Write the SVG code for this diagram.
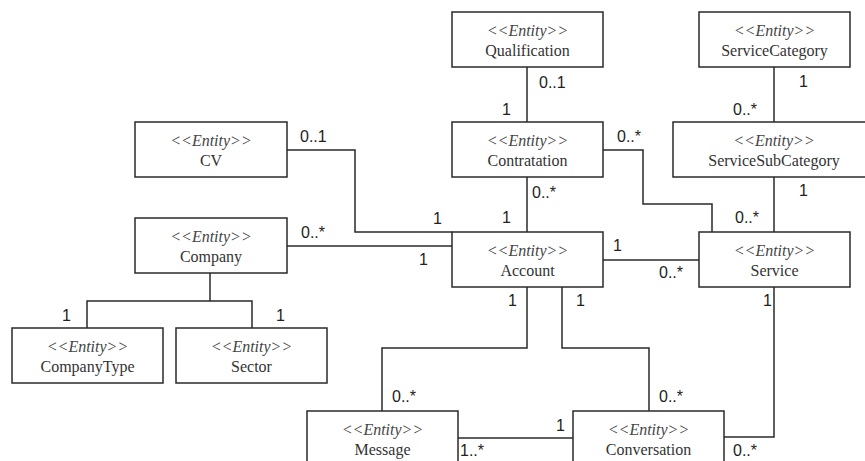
<svg xmlns="http://www.w3.org/2000/svg" width="865" height="461" viewBox="0 0 865 461">
<style>
.box{fill:#fff;stroke:#2a2a2a;stroke-width:1.5}
.st{font-family:"Liberation Serif",serif;font-style:italic;font-size:16px;fill:#444;text-anchor:middle}
.nm{font-family:"Liberation Serif",serif;font-size:16px;fill:#333;text-anchor:middle}
.ln{fill:none;stroke:#2a2a2a;stroke-width:1.5}
.m{font-family:"Liberation Sans",sans-serif;font-size:16px;fill:#222}
</style>
<rect width="865" height="461" fill="#fff"/>
<g id="connectors">
<path class="ln" d="M527,67 V122"/>
<path class="ln" d="M774,67 V122"/>
<path class="ln" d="M287,150 H355 V232 H452"/>
<path class="ln" d="M287,246 H452"/>
<path class="ln" d="M527,177 V232"/>
<path class="ln" d="M603,150 H643 V204 H712 V232"/>
<path class="ln" d="M774,177 V232"/>
<path class="ln" d="M603,260 H699"/>
<path class="ln" d="M527,287 V348 H382 V411"/>
<path class="ln" d="M562,287 V348 H649 V411"/>
<path class="ln" d="M774,287 V437 H724"/>
<path class="ln" d="M458,438 H573"/>
<path class="ln" d="M210,273 V301"/>
<path class="ln" d="M87,328 V301 H252 V328"/>
</g>
<g id="labels">
<text class="m" x="300" y="142">0..1</text>
<text class="m" x="433" y="224">1</text>
<text class="m" x="301" y="238">0..*</text>
<text class="m" x="419" y="265">1</text>
<text class="m" x="539" y="88">0..1</text>
<text class="m" x="502" y="115">1</text>
<text class="m" x="617" y="142">0..*</text>
<text class="m" x="532" y="198">0..*</text>
<text class="m" x="799" y="87">1</text>
<text class="m" x="733" y="115">0..*</text>
<text class="m" x="799" y="196">1</text>
<text class="m" x="502" y="223">1</text>
<text class="m" x="735" y="223">0..*</text>
<text class="m" x="613" y="251">1</text>
<text class="m" x="659" y="278">0..*</text>
<text class="m" x="508" y="306">1</text>
<text class="m" x="576" y="306">1</text>
<text class="m" x="763" y="306">1</text>
<text class="m" x="392" y="402">0..*</text>
<text class="m" x="659" y="402">0..*</text>
<text class="m" x="556" y="431">1</text>
<text class="m" x="460" y="456">1..*</text>
<text class="m" x="733" y="456">0..*</text>
<text class="m" x="62" y="321">1</text>
<text class="m" x="276" y="321">1</text>
</g>
<g id="qualification"><rect class="box" x="452" y="12" width="151" height="55"/><text class="st" x="527.5" y="36">&lt;&lt;Entity&gt;&gt;</text><text class="nm" x="527.5" y="56">Qualification</text></g>
<g id="servicecategory"><rect class="box" x="699" y="12" width="151" height="55"/><text class="st" x="774.5" y="36">&lt;&lt;Entity&gt;&gt;</text><text class="nm" x="774.5" y="56">ServiceCategory</text></g>
<g id="cv"><rect class="box" x="135" y="122" width="152" height="55"/><text class="st" x="211" y="146">&lt;&lt;Entity&gt;&gt;</text><text class="nm" x="211" y="166">CV</text></g>
<g id="contratation"><rect class="box" x="452" y="122" width="151" height="55"/><text class="st" x="527.5" y="146">&lt;&lt;Entity&gt;&gt;</text><text class="nm" x="527.5" y="166">Contratation</text></g>
<g id="servicesubcategory"><rect class="box" x="673" y="122" width="202" height="55"/><text class="st" x="774" y="146">&lt;&lt;Entity&gt;&gt;</text><text class="nm" x="774" y="166">ServiceSubCategory</text></g>
<g id="company"><rect class="box" x="135" y="218" width="152" height="55"/><text class="st" x="211" y="242">&lt;&lt;Entity&gt;&gt;</text><text class="nm" x="211" y="262">Company</text></g>
<g id="account"><rect class="box" x="452" y="232" width="151" height="55"/><text class="st" x="527.5" y="256">&lt;&lt;Entity&gt;&gt;</text><text class="nm" x="527.5" y="276">Account</text></g>
<g id="service"><rect class="box" x="699" y="232" width="151" height="55"/><text class="st" x="774.5" y="256">&lt;&lt;Entity&gt;&gt;</text><text class="nm" x="774.5" y="276">Service</text></g>
<g id="companytype"><rect class="box" x="12" y="328" width="151" height="55"/><text class="st" x="87.5" y="352">&lt;&lt;Entity&gt;&gt;</text><text class="nm" x="87.5" y="372">CompanyType</text></g>
<g id="sector"><rect class="box" x="176" y="328" width="151" height="55"/><text class="st" x="251.5" y="352">&lt;&lt;Entity&gt;&gt;</text><text class="nm" x="251.5" y="372">Sector</text></g>
<g id="message"><rect class="box" x="307" y="411" width="151" height="55"/><text class="st" x="382.5" y="435">&lt;&lt;Entity&gt;&gt;</text><text class="nm" x="382.5" y="455">Message</text></g>
<g id="conversation"><rect class="box" x="573" y="411" width="151" height="55"/><text class="st" x="648.5" y="435">&lt;&lt;Entity&gt;&gt;</text><text class="nm" x="648.5" y="455">Conversation</text></g>
</svg>
